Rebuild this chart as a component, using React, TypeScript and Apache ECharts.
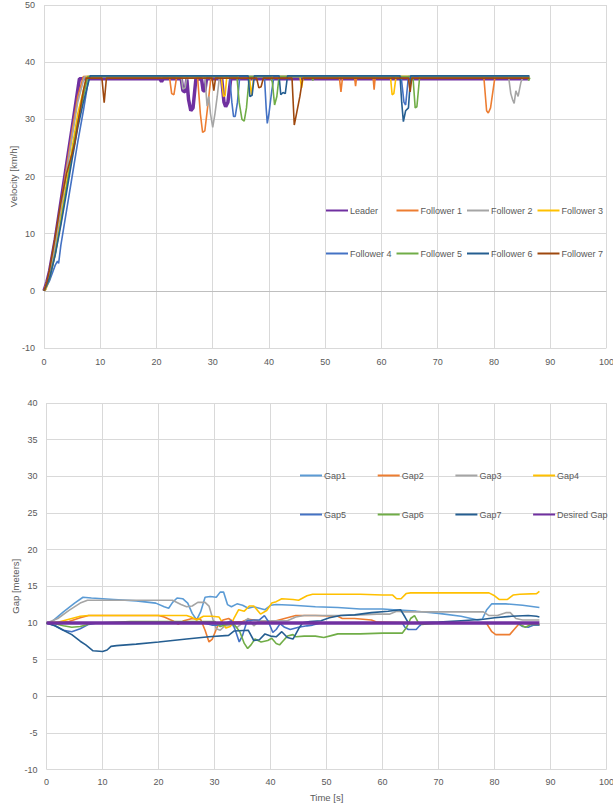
import React, { useEffect, useRef } from "react";
import * as echarts from "echarts";

const velocityNames = ["Leader", "Follower 1", "Follower 2", "Follower 3", "Follower 4", "Follower 5", "Follower 6", "Follower 7"];
const velocityColors = ["#7030A0", "#ED7D31", "#A5A5A5", "#FFC000", "#4472C4", "#70AD47", "#255E91", "#9E480E"];

const leader = [[0,0],[0.5,1.5],[1,3.5],[2,9],[3,15.5],[4,22],[5,28.5],[6.3,37.1],[20.6,37.1],[20.9,36.6],[21.2,37.1],[24.4,37.1],[24.7,35],[25.1,34.8],[25.4,37],[25.7,33.5],[26.1,31.5],[26.5,32],[27,37],[28,37.1],[28.3,35],[28.6,35],[28.9,37.1],[31.6,37.1],[32,33],[32.3,32.2],[32.7,33],[33.2,37.1],[86.3,37.1]];
const follower1 = [[0,0],[1,3],[2,8.5],[3,15],[4,21.5],[5,28],[6,34],[7,37.5],[22.3,37.5],[22.7,34.5],[23.1,34.3],[23.6,37.5],[27.3,37.5],[27.8,31],[28.2,27.7],[28.6,28],[29.2,33],[29.7,37.5],[52.5,37.5],[52.8,34.8],[53.1,37.5],[55.2,37.5],[55.4,35.8],[55.6,37.5],[58.5,37.5],[58.7,35.2],[58.9,37.5],[78.2,37.5],[78.7,31.5],[79,31.1],[79.4,32],[80.2,37.5],[86.3,37.5]];
const follower2 = [[0,0],[1,2.8],[2,8],[3,14.3],[4,20.7],[5,27],[6,33],[7.2,37.5],[24.4,37.5],[24.7,35.3],[25.1,35.5],[25.4,37.5],[28.6,37.5],[29,32.3],[29.3,34],[29.6,31],[30,28.6],[30.4,31],[30.8,34],[31.2,37.5],[82.6,37.5],[83,34.5],[83.3,33.5],[83.6,32.8],[83.9,35],[84.3,34],[84.8,36.5],[85.2,37.5],[86.3,37.5]];
const follower3 = [[0,0],[0.3,0.2],[1,2],[2,6.5],[3,12.5],[4,18.8],[5,25],[6,31],[7.6,37.5],[31.5,37.5],[31.9,34],[32.2,34.2],[32.5,37.5],[36.5,37.5],[36.9,34.2],[37.3,37.5],[45.5,37.5],[45.8,35.5],[46.1,37.5],[61.6,37.5],[61.9,34.3],[62.2,34.5],[62.6,37.5],[86.3,37.5]];
const follower4 = [[0,0],[1,1.8],[2,4.5],[2.4,5.2],[2.6,4.8],[3,8],[4,14],[5,20],[6,26],[7,31.5],[8,37.5],[33,37.5],[33.4,33],[33.7,30.5],[34,30.5],[34.4,33],[34.8,37.5],[39.2,37.5],[39.5,32],[39.7,29.3],[40,31],[40.5,35],[40.9,37.5],[63.5,37.5],[64,33],[64.3,32.5],[64.8,37.5],[86.3,37.5]];
const follower5 = [[0,0],[1,2.2],[2,6.5],[3,12],[4,18],[5,24],[6,29.5],[7.8,37.5],[34.3,37.5],[34.7,33],[35.2,30],[35.6,29.7],[36,32],[36.5,37.5],[40.3,37.5],[40.6,36.5],[41,32.5],[41.4,34],[41.8,37.5],[47.6,37.5],[47.8,36.8],[48,37.5],[65.6,37.5],[66,32],[66.3,32.2],[66.8,37.5],[86,37.5],[86.2,36.8],[86.4,37.3]];
const follower6 = [[0,0],[1,2.3],[2,6.3],[3,11.5],[4,17.2],[5,23],[6,28.5],[7,33],[8.2,37.6],[36.3,37.6],[36.6,34],[37,34.2],[37.4,37.6],[41.8,37.6],[42.1,34.3],[42.5,34.7],[42.9,34.5],[43.3,37.6],[63.3,37.6],[63.6,33],[63.9,29.6],[64.3,31.5],[64.8,32],[65.2,37.6],[86.3,37.6]];
const follower7 = [[0,0],[0.5,1.5],[1,3.8],[2,9.5],[3,15.5],[4,20.5],[5,24],[5.5,26],[6.3,31],[7,35],[7.5,37.2],[10.3,37.2],[10.7,32.9],[11.1,37.2],[29.9,37.2],[30.2,35],[30.5,37.2],[37.8,37.2],[38.2,35.5],[38.6,35.7],[39,37.2],[44.1,37.2],[44.5,29],[44.9,31],[45.5,34],[46,37.2],[64.8,37.2],[65.1,34.8],[65.4,37.2],[86.3,37.2]];
const velocitySeries = [leader, follower1, follower2, follower3, follower4, follower5, follower6, follower7];

const gapNames = ["Gap1", "Gap2", "Gap3", "Gap4", "Gap5", "Gap6", "Gap7", "Desired Gap"];
const gapColors = ["#5B9BD5", "#ED7D31", "#A5A5A5", "#FFC000", "#4472C4", "#70AD47", "#255E91", "#7030A0"];

const gap1 = [[0,10],[1,10.2],[3,11.5],[5,12.7],[6.5,13.5],[8,13.4],[12,13.2],[16,13],[19.5,12.7],[21,12.2],[21.8,12],[22.5,12.8],[23.3,13.4],[24.3,13.3],[25.2,12.7],[26,11.3],[26.8,10.4],[27.5,11.5],[28.3,13.5],[29.2,13.6],[30.3,13.5],[31,14.2],[31.6,14.2],[32.3,12.5],[33,12.2],[34,12.6],[35,12.4],[36,12],[37,12.2],[38,12],[39,11.8],[40,12.4],[41,12.5],[44,12.4],[48,12.2],[52,12.1],[56,11.9],[60,11.9],[62,11.8],[66,11.6],[70,11.3],[74,10.9],[77,10.4],[77.8,10.5],[78.6,11.8],[79.5,12.6],[82,12.6],[85,12.4],[88,12.1]];
const gap2 = [[0,10],[2,10],[4,10.2],[6,10.7],[7.5,11],[20,11],[21,10.8],[22.5,10.3],[23.5,9.8],[24.5,10.3],[26,10.6],[27.5,10.5],[28.3,9],[29,7.4],[29.6,7.8],[30.5,9.5],[31.5,10.4],[32.5,10.6],[33.5,10.1],[35,10.2],[36,10.5],[37,10.4],[38.5,10.2],[41,10.3],[43,10.7],[44.5,11],[48,11],[52,10.9],[52.8,10.6],[55,10.6],[58,10.4],[59,10.1],[65,10],[72,10],[78.5,10],[79.5,8.8],[80.2,8.4],[82.7,8.4],[83.6,9.2],[84.5,10],[86,9.9],[88,9.7]];
const gap3 = [[0,10],[2,10.6],[4,11.7],[6,12.7],[7.3,13.1],[15,13.1],[22.5,13.1],[24,12.5],[25,12.2],[26,12.3],[27,12.8],[28.3,12.8],[29,12.3],[29.7,10.5],[30.3,9.2],[31,9],[31.8,9.6],[33,9.7],[34,9.4],[35,10],[36,10.6],[37,9.6],[38,10.3],[40,10.3],[43,10.3],[44.5,10.8],[46,11],[52,11],[56,11.1],[59,11.2],[61.3,11.2],[62.5,11.6],[64,11.5],[70,11.5],[78,11.5],[79,11],[80.5,11],[82,11.4],[82.8,11.4],[83.8,10.6],[85,10.4],[88,10.4]];
const gap4 = [[0,10],[2,10.1],[4,10.5],[6,10.9],[7.5,11],[20,11],[25,11],[25.8,10.8],[26.8,10.4],[28,10.9],[29.5,10.9],[30.8,10.8],[31.5,9.9],[32,9.3],[32.8,9.5],[33.5,10.7],[34.3,11.8],[35.3,11.6],[36.2,12.3],[37,12.3],[38.2,11.2],[39.3,11.7],[40.2,12.7],[41,12.9],[42,13.3],[44,13.2],[45,13.1],[46.5,13.7],[47.5,13.9],[52,13.9],[56,13.9],[60,13.8],[61.8,13.8],[62.5,13.3],[63.3,13.3],[64.2,14],[65,14.1],[72,14.1],[79,14.1],[80,13.7],[80.8,13.2],[82.3,13.2],[83.3,13.8],[84.5,13.9],[87.5,14],[88,14.3]];
const gap5 = [[0,10],[1.5,9.6],[3,9],[4.5,8.8],[6,9.2],[7.5,9.8],[9,10],[20,10],[28,10],[29.5,9.7],[31,9.7],[32,10],[33,10.3],[33.7,9],[34.4,7.4],[35,8.3],[35.8,10.3],[37,10.4],[38,10.4],[38.9,11],[39.6,10.2],[40.4,8.7],[41,9.1],[41.7,9.9],[42.5,9.4],[43.5,9.1],[45,9.4],[46.5,9.6],[47.5,9.7],[49,10],[55,10],[60,10],[63.5,10],[64,9.4],[64.6,9.1],[66,9.1],[66.6,9.6],[67.2,10],[75,10],[84,10],[85,9.5],[86,9.4],[87,9.7],[88,9.7]];
const gap6 = [[0,10],[1.5,9.9],[3,9.6],[4.5,9.4],[6,9.5],[7,9.7],[8,10],[10,10],[15,10.2],[25,10.2],[30,10.2],[31,9.5],[32.5,9.9],[33.5,9.8],[34.5,8.8],[35.3,7.2],[35.9,6.5],[36.5,7],[37.2,7.8],[38.3,7.4],[39.5,7.6],[40.2,7.9],[41,7.2],[41.6,7],[42.3,7.6],[43,8.2],[44,8.4],[44.5,8.1],[46,8.2],[48,8.2],[49.5,8],[51,8.3],[52,8.5],[56,8.5],[60,8.6],[63.5,8.6],[64.3,9.4],[65,10.6],[65.7,11],[66.4,10],[67,9.8],[70,10],[80,10],[84,10],[85.5,9.4],[86.5,9.8],[88,9.8]];
const gap7 = [[0,10],[1.5,9.6],[3,9],[4.5,8.4],[6,7.5],[7,7],[8.3,6.2],[10,6.1],[10.8,6.3],[11.5,6.8],[12.5,6.9],[16,7.1],[20,7.4],[25,7.8],[29,8.1],[32.5,8.3],[33.5,8.9],[36,9],[37,7.6],[38,7.7],[39,8.5],[40,8.2],[41,8.1],[42,8.8],[43,8],[44,7.8],[45,9.2],[45.7,10],[47,10.2],[49,10.3],[50.5,10.7],[52.5,11],[55,11.1],[58,11.4],[61,11.6],[63.2,11.8],[64,10.8],[64.6,10],[67,10],[70,10.1],[74,10.3],[78,10.5],[80,10.7],[83,10.9],[86,11],[87.5,10.9],[88,10.8]];
const desiredGap = [[0,10],[88,10]];
const gapSeries = [gap1, gap2, gap3, gap4, gap5, gap6, gap7, desiredGap];

const xTicks = { min: 0, max: 100, interval: 10 };
const velocityTicks = { min: -10, max: 50, interval: 10 };
const gapTicks = { min: -10, max: 40, interval: 5 };

const FONT = "Liberation Sans";
const TEXT = "#595959";
const GRID = "#D9D9D9";

export default function App() {
  const ref = useRef<HTMLDivElement>(null);
  useEffect(() => {
    if (!ref.current) return;
    const chart = echarts.init(ref.current, null, { renderer: "svg" });
    const axisLabel = { color: TEXT, fontSize: 9, fontFamily: FONT };
    const xAxisBase = (gridIndex: number, margin: number) => ({
      type: "value",
      gridIndex,
      ...xTicks,
      axisLine: { show: false },
      axisTick: { show: false },
      axisLabel: { ...axisLabel, margin },
      splitLine: { show: true, lineStyle: { color: GRID, width: 1 } },
    });
    const yAxisBase = (gridIndex: number, ticks: any, name: string, nameGap: number) => ({
      type: "value",
      gridIndex,
      ...ticks,
      name,
      nameLocation: "middle",
      nameGap,
      nameRotate: 90,
      nameMoveOverlap: false,
      nameTextStyle: { color: TEXT, fontSize: 9.5, fontFamily: FONT },
      axisLine: { show: false },
      axisTick: { show: false },
      axisLabel: { ...axisLabel, margin: 9 },
      splitLine: { show: true, lineStyle: { color: GRID, width: 1 } },
    });
    const zeroLine = {
      silent: true,
      symbol: "none",
      label: { show: false },
      lineStyle: { color: "#BFBFBF", width: 1, type: "solid" },
      data: [{ yAxis: 0 }],
      animation: false,
    };
    const series: any[] = [];
    velocitySeries.forEach((d, i) => {
      series.push({
        name: velocityNames[i],
        type: "line",
        xAxisIndex: 0,
        yAxisIndex: 0,
        data: d,
        showSymbol: false,
        symbol: "none",
        color: velocityColors[i],
        lineStyle: { color: velocityColors[i], width: i === 0 ? 3.5 : 1.6 },
        markLine: i === 0 ? zeroLine : undefined,
        z: i === 0 ? 2 : 3,
      });
    });
    gapSeries.forEach((d, i) => {
      series.push({
        name: gapNames[i],
        type: "line",
        xAxisIndex: 1,
        yAxisIndex: 1,
        data: d,
        showSymbol: false,
        symbol: "none",
        color: gapColors[i],
        lineStyle: { color: gapColors[i], width: i === 7 ? 3.5 : 1.6 },
        markLine: i === 0 ? zeroLine : undefined,
        z: i === 7 ? 4 : 3,
      });
    });
    const legends: any[] = [];
    const addLegend = (name: string, left: number, top: number) => {
      legends.push({
        left,
        top,
        padding: 0,
        orient: "horizontal",
        itemWidth: 22,
        itemHeight: 10,
        itemGap: 0,
        width: 120,
        data: [name],
        itemStyle: { color: "rgba(0,0,0,0)", borderWidth: 0, borderColor: "rgba(0,0,0,0)" },
        textStyle: { color: TEXT, fontSize: 9, fontFamily: FONT, padding: [0, 0, 0, -3] },
        selectedMode: false,
      });
    };
    velocityNames.forEach((n, i) => {
      addLegend(n, 325 + (i % 4) * 70.5, i < 4 ? 206 : 249);
    });
    gapNames.forEach((n, i) => {
      addLegend(n, 299 + (i % 4) * 77.7, i < 4 ? 471 : 510);
    });
    chart.setOption({
      animation: false,
      backgroundColor: "#ffffff",
      grid: [
        { left: 44, top: 5, width: 562.4, height: 343, containLabel: false, outerBoundsMode: "none" },
        { left: 46.6, top: 403, width: 560, height: 366.5, containLabel: false, outerBoundsMode: "none" },
      ],
      xAxis: [xAxisBase(0, 9), { ...xAxisBase(1, 8), name: "Time [s]", nameLocation: "middle", nameGap: 23, nameMoveOverlap: false, nameTextStyle: { color: TEXT, fontSize: 9.5, fontFamily: FONT } }],
      yAxis: [yAxisBase(0, velocityTicks, "Velocity [km/h]", 26), yAxisBase(1, gapTicks, "Gap [meters]", 26)],
      legend: legends,
      series,
    });
    return () => chart.dispose();
  }, []);
  return (
    <div
      ref={ref}
      style={{ position: "fixed", left: 0, top: 0, width: 613, height: 807, background: "#fff" }}
    />
  );
}
